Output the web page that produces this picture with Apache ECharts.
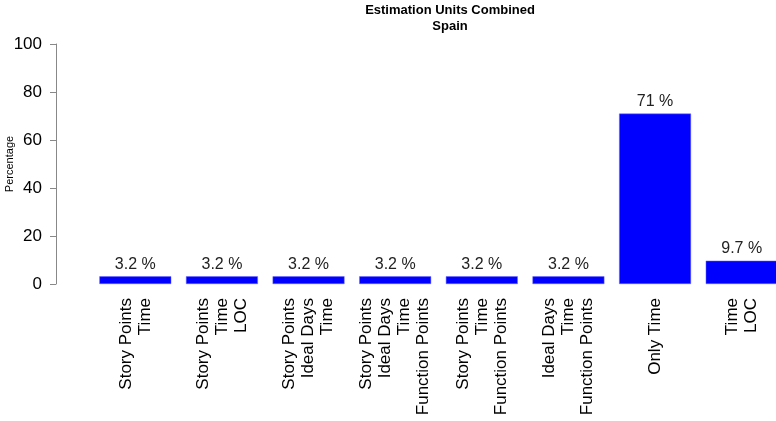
<!DOCTYPE html>
<html>
<head>
<meta charset="utf-8">
<script src="https://cdn.jsdelivr.net/npm/echarts@6/dist/echarts.min.js"></script>
<style>
  html, body { margin: 0; padding: 0; background: #fff; }
  #chart { width: 776px; height: 421px; }
</style>
</head>
<body>
<div id="chart"></div>
<script>
var categories = [
    'Story Points\nTime',
    'Story Points\nTime\nLOC',
    'Story Points\nIdeal Days\nTime',
    'Story Points\nIdeal Days\nTime\nFunction Points',
    'Story Points\nTime\nFunction Points',
    'Ideal Days\nTime\nFunction Points',
    'Only Time',
    'Time\nLOC'
];
var percentages = [3.2, 3.2, 3.2, 3.2, 3.2, 3.2, 71, 9.7];
var yTicks = [0, 20, 40, 60, 80, 100];

var chartDom = document.getElementById('chart');
var myChart = echarts.init(chartDom);
var font = 'Liberation Sans, Arial, sans-serif';

var option = {
    animation: false,
    title: {
        text: 'Estimation Units Combined\nSpain',
        left: 445,
        top: -3,
        textAlign: 'center',
        textStyle: {
            fontFamily: font,
            fontSize: 13,
            fontWeight: 'bold',
            color: '#000',
            lineHeight: 16
        }
    },
    // bars start a bit right of the y axis, last one runs off the page
    grid: {
        left: 92,
        top: 44,
        right: -9,
        bottom: 137,
        containLabel: false,
        outerBoundsMode: 'none'
    },
    xAxis: {
        type: 'category',
        data: categories,
        axisLine: { show: false },
        axisTick: { show: false },
        axisLabel: {
            rotate: 90,
            interval: 0,
            margin: 14,
            fontFamily: font,
            fontSize: 17,
            lineHeight: 19,
            color: '#000'
        }
    },
    yAxis: {
        type: 'value',
        offset: 36,
        min: yTicks[0],
        max: yTicks[yTicks.length - 1],
        interval: 20,
        name: 'Percentage',
        nameLocation: 'middle',
        nameGap: 41,
        nameMoveOverlap: false,
        nameTextStyle: {
            fontFamily: font,
            fontSize: 11,
            color: '#000'
        },
        splitLine: { show: false },
        axisLine: { show: true, lineStyle: { color: '#888', width: 1 } },
        axisTick: { show: true, length: 6, lineStyle: { color: '#888' } },
        axisLabel: {
            margin: 14,
            fontFamily: font,
            fontSize: 17,
            color: '#000'
        }
    },
    series: [{
        type: 'bar',
        data: percentages,
        barCategoryGap: '17%',
        itemStyle: { color: '#0000ff', borderColor: '#6666ff', borderWidth: 0.5 },
        label: {
            show: true,
            position: 'top',
            distance: 4,
            fontFamily: font,
            fontSize: 16,
            color: '#222',
            formatter: function (p) { return p.value + ' %'; }
        }
    }]
};

option && myChart.setOption(option);
</script>
</body>
</html>
